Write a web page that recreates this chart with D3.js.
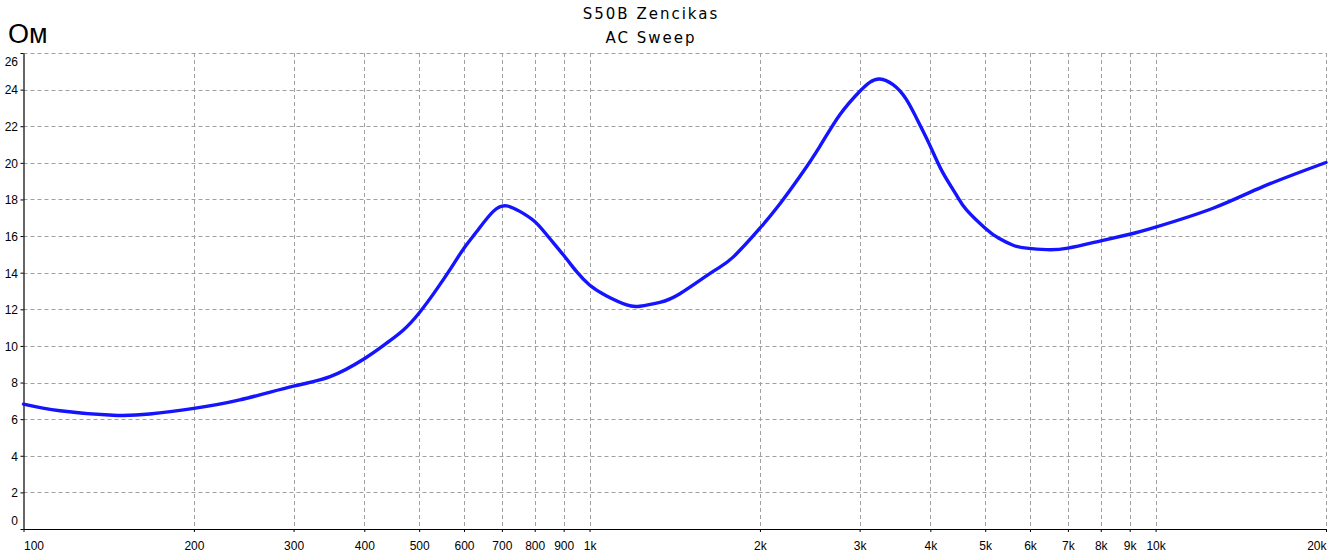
<!DOCTYPE html>
<html><head><meta charset="utf-8">
<script src="https://cdn.jsdelivr.net/npm/d3@7"></script>
<style>body{margin:0;background:#fff}svg{display:block}</style>
</head><body>
<script>
// ---- data ----
const freqs = [100, 116, 144, 167, 200, 241, 300, 348, 400, 438, 469, 500, 536, 574, 600, 632, 676, 713, 753, 800, 840, 900, 948, 1000, 1072, 1163, 1227, 1331, 1444, 1653, 1793, 2000, 2168, 2352, 2552, 2768, 3000, 3126, 3256, 3437, 3630, 3832, 4000, 4199, 4446, 4634, 5000, 5276, 5601, 5918, 6415, 7000, 8000, 9000, 10000, 12630, 15475, 20000];
const ohms  = [6.82, 6.46, 6.21, 6.28, 6.59, 7.05, 7.8, 8.32, 9.3, 10.15, 10.87, 11.8, 13.06, 14.43, 15.34, 16.25, 17.35, 17.65, 17.35, 16.8, 16.07, 14.95, 14.07, 13.33, 12.73, 12.24, 12.17, 12.38, 12.85, 14.07, 14.85, 16.43, 17.75, 19.25, 20.9, 22.63, 23.9, 24.4, 24.58, 24.27, 23.45, 22.08, 20.9, 19.52, 18.25, 17.43, 16.43, 15.89, 15.5, 15.34, 15.26, 15.34, 15.74, 16.1, 16.49, 17.52, 18.7, 20.02];
const xTickValues = [100, 200, 300, 400, 500, 600, 700, 800, 900, 1000, 2000, 3000, 4000, 5000, 6000, 7000, 8000, 9000, 10000, 20000];
const xTickLabels = ["100", "200", "300", "400", "500", "600", "700", "800", "900", "1k", "2k", "3k", "4k", "5k", "6k", "7k", "8k", "9k", "10k", "20k"];
const yTickValues = [0, 2, 4, 6, 8, 10, 12, 14, 16, 18, 20, 22, 24, 26];
const titleLines = ["S50B Zencikas", "AC Sweep"];
const yUnit = "Ом";

// ---- layout ----
const W = 1329, H = 556;
const svg = d3.select("body").append("svg").attr("width", W).attr("height", H);
const x = d3.scaleLog().domain([100, 20000]).range([23.5, 1326]);
const y = d3.scaleLinear().domain([0, 26]).range([529, 53]);
const fontTick = "'Liberation Sans', Arial, sans-serif";
const fontTitle = "'DejaVu Sans', Verdana, sans-serif";
const gridColor = "#a0a0a0";

// grid
svg.append("g").selectAll("line").data(yTickValues.filter(v => v > 0)).join("line")
  .attr("x1", x(100)).attr("x2", x(20000))
  .attr("y1", d => Math.round(y(d)) + 0.5).attr("y2", d => Math.round(y(d)) + 0.5)
  .attr("stroke", gridColor).attr("stroke-width", 1).attr("stroke-dasharray", "4,3");
svg.append("g").selectAll("line").data(xTickValues.filter(v => v > 100)).join("line")
  .attr("x1", d => Math.round(x(d)) + 0.5).attr("x2", d => Math.round(x(d)) + 0.5)
  .attr("y1", y(26)).attr("y2", y(0))
  .attr("stroke", gridColor).attr("stroke-width", 1).attr("stroke-dasharray", "4,3");

// axes
const yAxis = d3.axisLeft(y).tickValues(yTickValues).tickSize(3).tickSizeOuter(0).tickPadding(2.5).tickFormat(d3.format("d"));
const gy = svg.append("g").attr("transform", `translate(${x(100)},0)`).call(yAxis);
gy.select(".domain").attr("stroke", "#000").attr("stroke-width", 1.2);
gy.selectAll(".tick line").attr("stroke", "#000");
gy.selectAll(".tick text").attr("font-family", fontTick).attr("font-size", 12).attr("fill", "#000")
  .attr("dy", d => d === 0 ? "-0.35em" : d === 26 ? "1.05em" : "0.36em");

const xAxis = d3.axisBottom(x).tickValues(xTickValues).tickSize(3).tickSizeOuter(0).tickPadding(9.7)
  .tickFormat((d, i) => xTickLabels[i]);
const gx = svg.append("g").attr("transform", `translate(0,${y(0)})`).call(xAxis);
gx.select(".domain").attr("stroke", "#000").attr("stroke-width", 1.2);
gx.selectAll(".tick line").attr("stroke", "#000");
gx.selectAll(".tick text").attr("font-family", fontTick).attr("font-size", 12).attr("fill", "#000")
  .attr("text-anchor", d => d === 100 ? "start" : d === 20000 ? "end" : "middle");

// curve
const pts = freqs.map((f, i) => ({ f, v: ohms[i] }));
const line = d3.line().x(d => x(d.f)).y(d => y(d.v)).curve(d3.curveNatural);
svg.append("path").datum(pts).attr("d", line)
  .attr("fill", "none").attr("stroke", "#1414ff").attr("stroke-width", 3.4)
  .attr("stroke-linejoin", "round").attr("stroke-linecap", "round");

// titles
svg.append("g").selectAll("text").data(titleLines).join("text")
  .attr("x", 651).attr("y", (d, i) => 19 + i * 24)
  .attr("text-anchor", "middle").attr("font-family", fontTitle).attr("font-size", 15)
  .attr("letter-spacing", "2px").attr("fill", "#000").text(d => d);

svg.append("text").attr("x", 8).attr("y", 43).attr("font-family", fontTick)
  .attr("font-size", 27).attr("fill", "#000").text(yUnit);
</script>
</body></html>
